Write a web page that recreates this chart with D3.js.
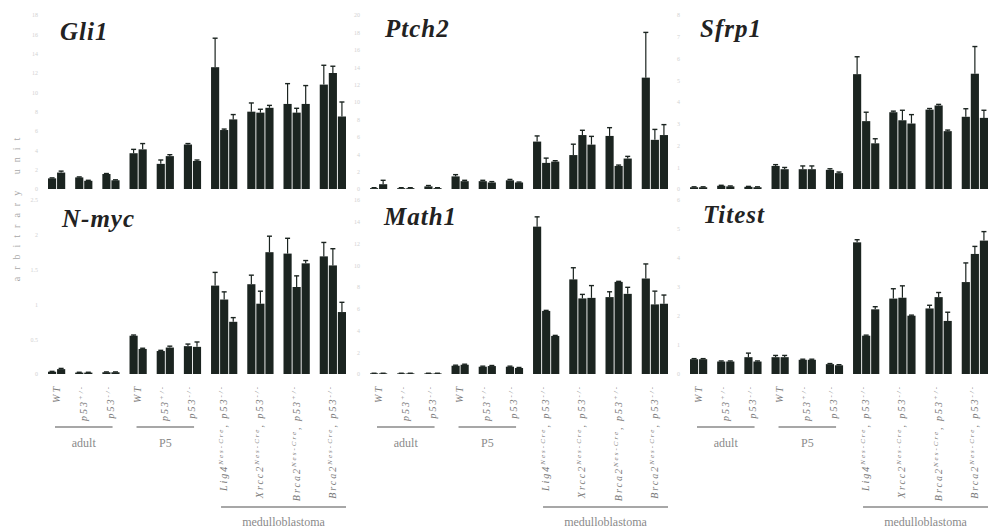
<!DOCTYPE html>
<html><head><meta charset="utf-8">
<script src="https://cdn.jsdelivr.net/npm/d3@7"></script>
<style>body{margin:0;background:#fff}svg{display:block}</style>
</head><body><svg id="c" width="990" height="530"></svg>
<script>
// ---- data ----
const barsPerCategory = [2,2,2,2,2,2,3,3,3,3];
const categoryLabels = [
  [["WT",""]], [["p53","+/-"]], [["p53","-/-"]],
  [["WT",""]], [["p53","+/-"]], [["p53","-/-"]],
  [["Lig4","Nes-Cre"],[", p53","-/-"]],
  [["Xrcc2","Nes-Cre"],[", p53","-/-"]],
  [["Brca2","Nes-Cre"],[", p53","+/-"]],
  [["Brca2","Nes-Cre"],[", p53","-/-"]]
];
const groupNames = ["adult","P5","medulloblastoma"];
const groupCategorySpan = [[0,2],[3,5],[6,9]];
const geneNames = ["Gli1","Ptch2","Sfrp1","N-myc","Math1","Titest"];
const yDomains = [[0,18],[0,20],[0,8],[0,2.5],[0,16],[0,6]];
const yTickSteps = [2,2,1,0.5,2,1];

const gli1Values = [1.1,1.7, 1.2,0.85, 1.55,0.9, 3.7,4.1, 2.6,3.4, 4.6,2.9, 12.6,6.1,7.2, 8.0,7.9,8.4, 8.8,7.9,8.8, 10.8,12.0,7.5];
const gli1Errors = [0.05,0.15, 0.05,0.05, 0.05,0.05, 0.4,0.6, 0.4,0.15, 0.1,0.1, 3.0,0.1,0.5, 0.9,0.35,0.25, 2.1,0.45,1.9, 2.0,0.7,1.5];
const ptch2Values = [0.1,0.55, 0.1,0.1, 0.3,0.1, 1.45,0.9, 0.9,0.75, 1.0,0.75, 5.45,3.0,3.15, 3.9,6.2,5.1, 6.1,2.65,3.5, 12.8,5.65,6.2];
const ptch2Errors = [0.05,0.45, 0.05,0.05, 0.1,0.05, 0.2,0.1, 0.1,0.1, 0.1,0.05, 0.65,0.55,0.1, 1.25,0.55,0.95, 0.95,0.1,0.25, 5.2,1.2,1.2];
const sfrp1Values = [0.08,0.08, 0.15,0.12, 0.1,0.08, 1.06,0.91, 0.91,0.91, 0.88,0.73, 5.28,3.12,2.1, 3.53,3.16,3.01, 3.65,3.84,2.66, 3.32,5.3,3.27];
const sfrp1Errors = [0.02,0.02, 0.02,0.02, 0.02,0.02, 0.06,0.08, 0.15,0.15, 0.05,0.05, 0.8,0.41,0.21, 0.05,0.46,0.41, 0.05,0.05,0.05, 0.37,1.25,0.35];
const nmycValues = [0.033,0.07, 0.02,0.02, 0.025,0.025, 0.55,0.36, 0.33,0.38, 0.4,0.39, 1.27,1.07,0.75, 1.29,1.01,1.75, 1.73,1.25,1.59, 1.69,1.56,0.89];
const nmycErrors = [0.005,0.01, 0.005,0.005, 0.005,0.005, 0.01,0.01, 0.01,0.02, 0.03,0.07, 0.19,0.11,0.06, 0.13,0.18,0.23, 0.22,0.16,0.04, 0.2,0.24,0.14];
const math1Values = [0.06,0.06, 0.06,0.06, 0.06,0.06, 0.76,0.85, 0.67,0.73, 0.67,0.55, 13.55,5.8,3.5, 8.7,6.95,7.0, 7.07,8.47,7.37, 8.78,6.4,6.46];
const math1Errors = [0.01,0.01, 0.01,0.01, 0.01,0.01, 0.05,0.05, 0.05,0.05, 0.05,0.05, 0.9,0.05,0.05, 1.07,0.37,1.13, 0.49,0.05,0.6, 1.34,1.22,0.8];
const titestValues = [0.51,0.51, 0.43,0.43, 0.58,0.43, 0.58,0.58, 0.49,0.49, 0.34,0.3, 4.54,1.32,2.23, 2.6,2.63,2.01, 2.26,2.65,1.83, 3.17,4.14,4.6];
const titestErrors = [0.02,0.02, 0.02,0.02, 0.14,0.02, 0.06,0.06, 0.02,0.02, 0.02,0.02, 0.09,0.02,0.09, 0.34,0.41,0.02, 0.11,0.16,0.3, 0.66,0.26,0.31];

const panelValues = [gli1Values, ptch2Values, sfrp1Values, nmycValues, math1Values, titestValues];
const panelErrors = [gli1Errors, ptch2Errors, sfrp1Errors, nmycErrors, math1Errors, titestErrors];

// ---- layout ----
const svg = d3.select("#c");
const colX = [[48,346],[370,668],[690,988]];
const rowY = [[189,15],[374,200]];
const titlePos = [[60,40],[385,37],[700,37],[62,227],[384,225],[703,223]];
const barColor = "#1b2420";

// slot keys
const slots = [];
barsPerCategory.forEach((n,c)=>{
  for(let i=0;i<n;i++) slots.push(`c${c}b${i}`);
  if(c<barsPerCategory.length-1) slots.push(`c${c}gap`);
});

const xScales = colX.map(r => d3.scaleBand().domain(slots).range(r).paddingInner(0.1));

function barData(vals, errs){
  const out=[]; let k=0;
  barsPerCategory.forEach((n,c)=>{ for(let i=0;i<n;i++){ out.push({key:`c${c}b${i}`, v:vals[k], e:errs[k]}); k++; } });
  return out;
}

geneNames.forEach((g,p)=>{
  const col=p%3, row=Math.floor(p/3);
  const x = xScales[col];
  const y = d3.scaleLinear().domain(yDomains[p]).range(rowY[row]);
  const G = svg.append("g");
  // faint tick labels
  const ticks = d3.range(yDomains[p][0], yDomains[p][1]+1e-9, yTickSteps[p]);
  const ax = G.append("g").attr("transform",`translate(${colX[col][0]-7},0)`)
    .call(d3.axisLeft(y).tickValues(ticks).tickSize(0).tickFormat(d3.format("~g")));
  ax.select(".domain").remove();
  ax.selectAll("text").attr("font-size",6).attr("fill","#d2d2d2").attr("font-family","Liberation Serif");
  const data = barData(panelValues[p], panelErrors[p]);
  G.selectAll("rect").data(data).join("rect")
    .attr("x",d=>x(d.key)).attr("width",x.bandwidth())
    .attr("y",d=>y(d.v)).attr("height",d=>y(0)-y(d.v)).attr("fill",barColor);
  const eb = G.selectAll("g.eb").data(data).join("g").attr("class","eb");
  eb.append("line").attr("x1",d=>x(d.key)+x.bandwidth()/2).attr("x2",d=>x(d.key)+x.bandwidth()/2)
    .attr("y1",d=>y(d.v)).attr("y2",d=>y(d.v+d.e)).attr("stroke",barColor).attr("stroke-width",1.2);
  eb.append("line").attr("x1",d=>x(d.key)+x.bandwidth()/2-2.5).attr("x2",d=>x(d.key)+x.bandwidth()/2+2.5)
    .attr("y1",d=>y(d.v+d.e)).attr("y2",d=>y(d.v+d.e)).attr("stroke",barColor).attr("stroke-width",1.4);
  G.append("text").attr("x",titlePos[p][0]).attr("y",titlePos[p][1]).text(g)
    .attr("font-family","Liberation Serif").attr("font-style","italic").attr("font-weight","bold")
    .attr("font-size",25).attr("letter-spacing",1).attr("fill","#222");
});

// category labels & group brackets
colX.forEach((r,col)=>{
  const x = xScales[col];
  const G = svg.append("g");
  const catCenter = c => {
    const n = barsPerCategory[c];
    return (x(`c${c}b0`) + x(`c${c}b${n-1}`) + x.bandwidth())/2;
  };
  categoryLabels.forEach((parts,c)=>{
    const t = G.append("text")
      .attr("transform",`translate(${catCenter(c)+3},385) rotate(-90)`)
      .attr("text-anchor","end").attr("font-family","Liberation Serif")
      .attr("font-style","italic").attr("font-size",10).attr("letter-spacing",2).attr("fill","#7a7a7a");
    parts.forEach(([main,sup])=>{
      t.append("tspan").text(main).attr("baseline-shift","0");
      if(sup) t.append("tspan").text(sup).attr("font-size",7).attr("baseline-shift","super");
    });
  });
  groupCategorySpan.forEach(([a,b],gi)=>{
    const nb = barsPerCategory[b];
    const left = x(`c${a}b0`) + (gi===2?10:7);
    const right = x(`c${b}b${nb-1}`) + x.bandwidth() - (gi===2?0:7);
    const ly = gi===2?507:427;
    G.append("line").attr("x1",left).attr("x2",right).attr("y1",ly).attr("y2",ly)
      .attr("stroke","#8a8a8a").attr("stroke-width",1.5);
    G.append("text").attr("x",(left+right)/2).attr("y",ly+(gi===2?19:20))
      .attr("text-anchor","middle").attr("font-family","Liberation Serif").attr("font-size",12)
      .attr("fill","#8a8a8a").text(groupNames[gi]);
  });
});

svg.append("text").attr("transform","translate(20,206) rotate(-90)")
  .attr("text-anchor","middle").attr("font-family","Liberation Serif").attr("font-size",10)
  .attr("letter-spacing",7).attr("fill","#a8a8a8").text("arbitrary unit");
</script></body></html>
